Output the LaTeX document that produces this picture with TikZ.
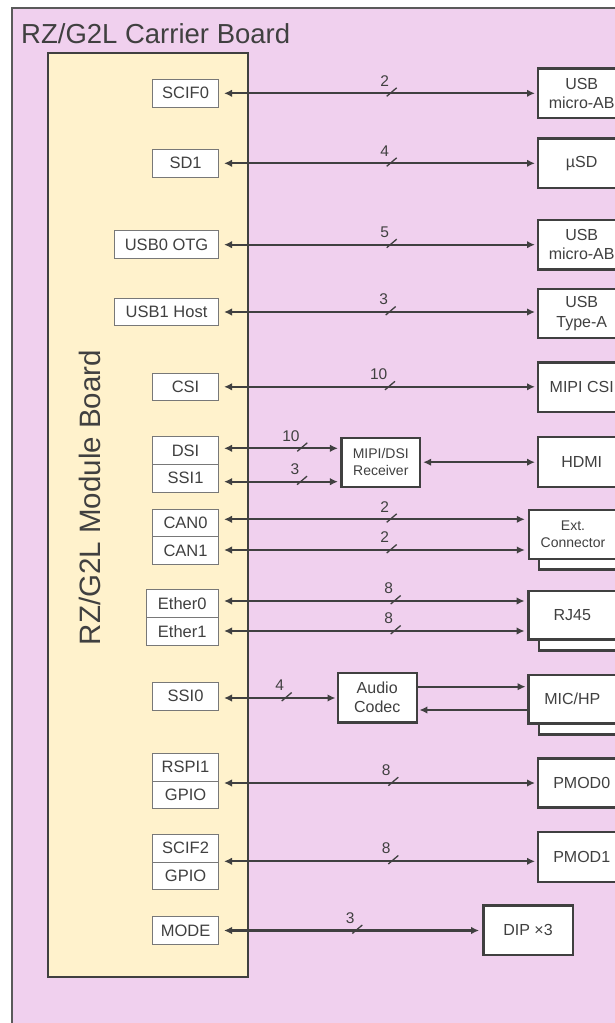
\documentclass[tikz,border=0pt]{standalone}
\usepackage{fontspec}
\setmainfont{Liberation Sans}
\usetikzlibrary{arrows.meta}
\definecolor{boardpink}{RGB}{240,208,238}
\definecolor{modyellow}{RGB}{255,242,204}
\definecolor{dk}{RGB}{64,64,64}
\definecolor{bordergray}{RGB}{90,90,90}
\definecolor{ifgray}{RGB}{120,120,120}
\newcommand\busmark[4]{%
  \draw[slashmark] (#1-5,#2+3) -- (#1+5,#2-5.5);
  \node[numlbl] (#4) at (#1-2.5,#2-12.5) {#3};}
\tikzset{
  ifbox/.style={draw=ifgray, line width=0.9pt, fill=white, minimum width=66pt,
    minimum height=27.7pt, inner sep=0pt, anchor=east, text=dk,
    font=\fontsize{16.5}{19}\selectfont},
  rbox/.style={draw=dk, line width=2.4pt, fill=white, minimum width=88pt,
    minimum height=49.4pt, inner sep=0pt, text=dk, align=center,
    font=\fontsize{16}{19.3}\selectfont},
  smallbox/.style={rbox, font=\fontsize{14}{16.7}\selectfont},
  tip/.tip={Latex[length=8pt,width=7.5pt]},
  bus/.style={draw=dk, line width=2.3pt, tip-tip, shorten <=5pt, shorten >=1.5pt},
  uni/.style={draw=dk, line width=2.3pt, -tip},
  slashmark/.style={draw=dk, line width=1.3pt},
  numlbl/.style={anchor=east, text=dk, inner sep=0pt, font=\fontsize{15.5}{18}\selectfont},
}
\begin{document}
\begin{tikzpicture}[x=1pt,y=-1pt]
\useasboundingbox (0,0) rectangle (615,1023);
\clip (0,0) rectangle (615,1023);
\fill[white] (0,0) rectangle (615,1023);
% carrier board
\draw[fill=boardpink, draw=bordergray, line width=2pt] (12.3,8.3) rectangle (680,1080);
\node[anchor=base west, inner sep=0pt, text=dk, font=\fontsize{27.5}{32}\selectfont] (title) at (21,43) {RZ/G2L Carrier Board};
% module board
\draw[fill=modyellow, draw=dk, line width=2.2pt] (48.3,53.3) rectangle (248,976.7);
\node[rotate=90, anchor=base, inner sep=0pt, text=dk, font=\fontsize{29.5}{34}\selectfont] (modlabel) at (100.5,497.5) {RZ/G2L Module Board};

% interface boxes
\node[ifbox] (scif0) at (219,93.3) {SCIF0};
\node[ifbox] (sd1) at (219,163.3) {SD1};
\node[ifbox, minimum width=104pt] (usb0) at (219,244.7) {USB0 OTG};
\node[ifbox, minimum width=104pt] (usb1) at (219,312) {USB1 Host};
\node[ifbox] (csi) at (219,386.8) {CSI};
\node[ifbox] (dsi) at (219,450.5) {DSI};
\node[ifbox] (ssi1) at (219,478.2) {SSI1};
\node[ifbox] (can0) at (219,522.8) {CAN0};
\node[ifbox] (can1) at (219,550.5) {CAN1};
\node[ifbox, minimum width=72.6pt] (eth0) at (219,603.7) {Ether0};
\node[ifbox, minimum width=72.6pt] (eth1) at (219,631.2) {Ether1};
\node[ifbox] (ssi0) at (219,696.3) {SSI0};
\node[ifbox] (rspi1) at (219,767.2) {RSPI1};
\node[ifbox] (gpio1) at (219,794.9) {GPIO};
\node[ifbox] (scif2) at (219,848.3) {SCIF2};
\node[ifbox] (gpio2) at (219,876) {GPIO};
\node[ifbox] (mode) at (219,930.5) {MODE};

% right-hand boxes
\node[rbox] (usbab1) at (581.7,93.3) {USB\\micro-AB};
\node[rbox] (usd) at (581.7,163.3) {µSD};
\node[rbox] (usbab2) at (581.7,244.7) {USB\\micro-AB};
\node[rbox] (usba) at (581.7,313.5) {USB\\Type-A};
\node[rbox] (mipicsi) at (581.7,387.3) {MIPI CSI};
\node[rbox, minimum height=50pt] (hdmi) at (581.7,461.7) {HDMI};
\node[rbox, anchor=north west] (extback) at (537.5,518.7) {};
\node[smallbox] (ext) at (573,534.5) {Ext.\\Connector};
\node[rbox, anchor=north west] (rjback) at (537.5,599.7) {};
\node[rbox, minimum height=48.3pt] (rj45) at (572.3,615.2) {RJ45};
\node[rbox, anchor=north west] (micback) at (537.5,683.7) {};
\node[rbox, minimum height=48.3pt] (michp) at (572.3,699.2) {MIC/HP};
\node[rbox, minimum height=49pt] (pmod0) at (581.7,782.8) {PMOD0};
\node[rbox, minimum height=50pt] (pmod1) at (581.7,856.7) {PMOD1};
\node[rbox, minimum width=89.4pt, minimum height=49.3pt] (dip) at (528,930.3) {DIP ×3};

% middle boxes
\node[smallbox, minimum width=78.3pt, minimum height=49pt] (recv) at (380.8,462.2) {MIPI/DSI\\Receiver};
\node[rbox, minimum width=79pt, minimum height=49.6pt, font=\fontsize{16}{19}\selectfont] (codec) at (377.2,697.5) {Audio\\Codec};

% anchor coordinates for arrows
\coordinate (dsiA) at ([yshift=2.2pt]dsi.east);
\coordinate (ssi1A) at ([yshift=-3.5pt]ssi1.east);
\coordinate (can0A) at ([yshift=3.5pt]can0.east);
\coordinate (can1A) at ([yshift=0.5pt]can1.east);
\coordinate (eth0A) at ([yshift=2.7pt]eth0.east);
\coordinate (eth1A) at ([yshift=0.2pt]eth1.east);
\coordinate (ssi0A) at ([yshift=-1.7pt]ssi0.east);
\coordinate (rspiA) at ([yshift=-1.5pt]rspi1.south east);
\coordinate (scif2A) at ([yshift=1.3pt]scif2.south east);
\coordinate (codecOut) at ([yshift=10.8pt]codec.east);
\coordinate (codecIn) at ([yshift=-12.5pt]codec.east);

% connectors
\draw[bus] (scif0.east) -- (scif0.east -| usbab1.west);
\draw[bus] (sd1.east) -- (sd1.east -| usd.west);
\draw[bus] (usb0.east) -- (usb0.east -| usbab2.west);
\draw[bus] (usb1.east) -- (usb1.east -| usba.west);
\draw[bus] (csi.east) -- (csi.east -| mipicsi.west);
\draw[bus, shorten >=2.5pt] (dsiA) -- (dsiA -| recv.west);
\draw[bus, shorten >=2.5pt] (ssi1A) -- (ssi1A -| recv.west);
\draw[bus, shorten <=2pt] (recv.east) -- (recv.east -| hdmi.west);
\draw[bus, shorten >=3pt] (can0A) -- (can0A -| ext.west);
\draw[bus, shorten >=3pt] (can1A) -- (can1A -| ext.west);
\draw[bus, shorten >=2.5pt] (eth0A) -- (eth0A -| rj45.west);
\draw[bus, shorten >=2.5pt] (eth1A) -- (eth1A -| rj45.west);
\draw[bus, shorten >=1pt] (ssi0A) -- (ssi0A -| codec.west);
\draw[uni, shorten >=1.5pt] (codecOut) -- (codecOut -| michp.west);
\draw[uni, shorten >=1.5pt] (codecIn -| michp.west) -- (codecIn);
\draw[bus] (rspiA) -- (rspiA -| pmod0.west);
\draw[bus] (scif2A) -- (scif2A -| pmod1.west);
\draw[bus, shorten >=3pt] (mode.east) -- (mode.east -| dip.west);

% bus width marks
\busmark{391.7}{93.3}{2}{w1}
\busmark{391.7}{163.3}{4}{w2}
\busmark{391.7}{244.7}{5}{w3}
\busmark{390.7}{312}{3}{w4}
\busmark{390}{386.8}{10}{w5}
\busmark{302.3}{448.3}{10}{w6}
\busmark{302}{481.7}{3}{w7}
\busmark{391.7}{519.3}{2}{w8}
\busmark{391.7}{550}{2}{w9}
\busmark{395.7}{601}{8}{w10}
\busmark{395.7}{631}{8}{w11}
\busmark{286.7}{698}{4}{w12}
\busmark{393.3}{782.7}{8}{w13}
\busmark{393.3}{861}{8}{w14}
\busmark{357.3}{930.5}{3}{w15}
\end{tikzpicture}
\end{document}
